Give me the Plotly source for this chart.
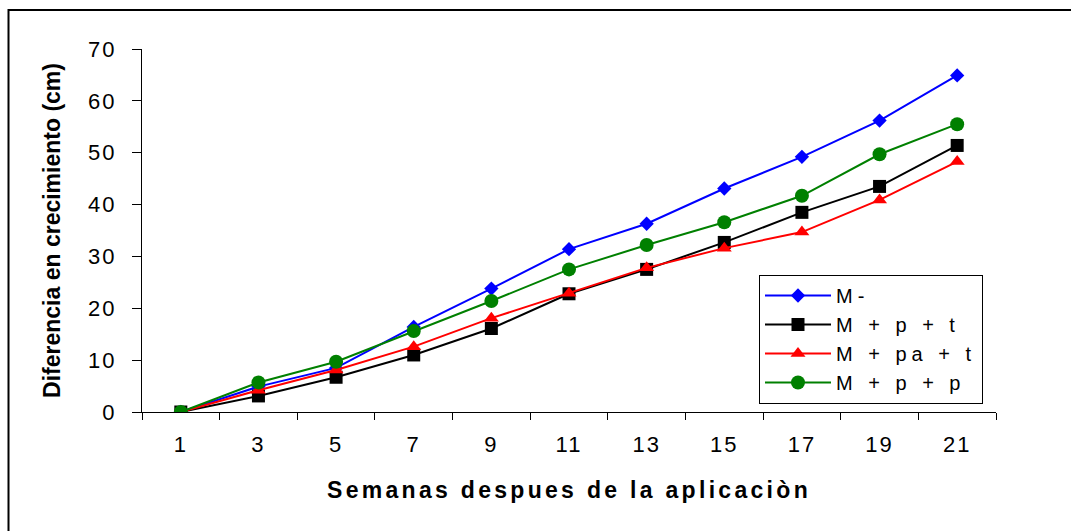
import plotly.graph_objects as go

weeks = ["1", "3", "5", "7", "9", "11", "13", "15", "17", "19", "21"]
m_menos = [0, 4.9, 8.5, 16.4, 23.8, 31.4, 36.3, 43.1, 49.2, 56.2, 64.9]
m_p_t = [0, 3.1, 6.7, 11.0, 16.1, 22.8, 27.5, 32.7, 38.5, 43.5, 51.4]
m_pa_t = [0, 4.2, 8.1, 12.6, 18.1, 22.9, 27.8, 31.6, 34.7, 40.9, 48.3]
m_p_p = [0, 5.7, 9.7, 15.6, 21.4, 27.5, 32.2, 36.6, 41.7, 49.7, 55.5]

series_names = ["M-", "M + p + t", "M + pa + t", "M + p + p"]
series_vals = [m_menos, m_p_t, m_pa_t, m_p_p]
colors = ["#0000FF", "#000000", "#FF0000", "#008000"]
symbols = ["diamond", "square", "triangle-up", "circle"]
msizes = [11, 13, 13, 14]

FONT = "Arial, 'Liberation Sans', sans-serif"

fig = go.Figure()
for name, vals, c, s, ms in zip(series_names, series_vals, colors, symbols, msizes):
    fig.add_trace(go.Scatter(
        x=weeks, y=vals, name=name, mode="lines+markers",
        line=dict(color=c, width=2),
        marker=dict(color=c, symbol=s, size=ms, line=dict(width=0)),
    ))

W, H = 1071, 531
L, R, T, B = 142, 75, 49, 119
pw, ph = W - L - R, H - T - B

fig.update_layout(
    width=W, height=H,
    margin=dict(l=L, r=R, t=T, b=B),
    paper_bgcolor="white", plot_bgcolor="white",
    font=dict(family=FONT, color="black"),
    showlegend=True,
    legend=dict(
        x=(759 - L) / pw, y=(H - B - 275) / ph, xanchor="left", yanchor="top",
        bgcolor="white", bordercolor="black", borderwidth=1,
        font=dict(size=20, family=FONT, color="black"),
        itemwidth=66, tracegroupgap=0,
    ),
    xaxis=dict(
        type="category", showgrid=False, zeroline=False,
        showline=True, linecolor="black", linewidth=1,
        ticks="outside", tickson="boundaries", ticklen=7, tickcolor="black",
        tickfont=dict(size=22, family=FONT),
        ticklabelstandoff=13,
        title=dict(text="Semanas despues de la aplicaciòn",
                   font=dict(size=23, family=FONT, weight="bold"), standoff=25),
        range=[-0.5, 10.5],
    ),
    yaxis=dict(
        range=[0, 70], dtick=10, showgrid=False, zeroline=False,
        showline=True, linecolor="black", linewidth=1,
        ticks="outside", ticklen=9, tickcolor="black",
        tickfont=dict(size=22, family=FONT),
        ticklabelstandoff=11,
        title=dict(text="Diferencia en crecimiento (cm)",
                   font=dict(size=23, family=FONT, weight="bold"), standoff=25),
    ),
    shapes=[dict(type="rect", xref="paper", yref="paper",
                 x0=(8.5 - L) / pw, x1=1.3, y0=-0.6, y1=(H - B - 10) / ph,
                 line=dict(color="black", width=2), fillcolor="rgba(0,0,0,0)", layer="below")],
)

post = """
document.body.style.margin='0';
var s=document.createElement('style');
s.textContent='.xtitle{letter-spacing:3.3px}.legendtext{letter-spacing:5px}.xtick text,.ytick text{letter-spacing:2px}';
document.head.appendChild(s);
var gd=document.getElementById('{plot_id}');
Plotly.relayout(gd, {'legend.font.size': 20.01, 'xaxis.title.font.size': 23.01});
"""
fig.write_html("out.html", post_script=post, config={"displayModeBar": False})
